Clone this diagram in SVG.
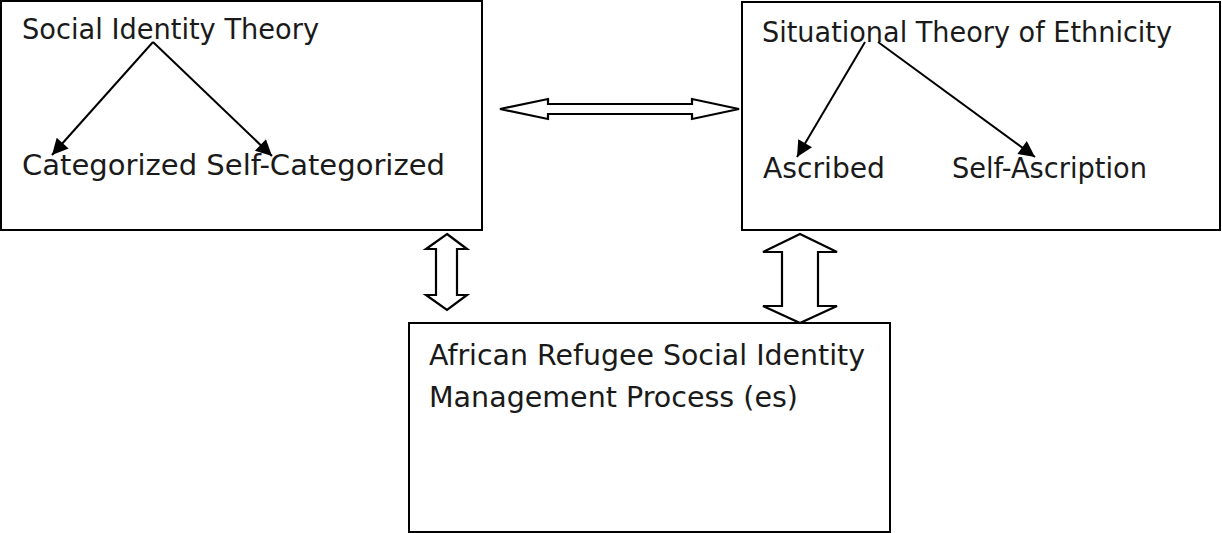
<svg xmlns="http://www.w3.org/2000/svg" width="1222" height="533" viewBox="0 0 1222 533">
<style>
.box{fill:#fff;stroke:#000;stroke-width:2}
.t{font-family:"DejaVu Sans","Liberation Sans",sans-serif;font-size:28px;fill:#1a1a1a}
.ln{stroke:#000;stroke-width:2;fill:none}
.blk{fill:#fff;stroke:#000;stroke-width:2.2;stroke-linejoin:miter}
</style>
<defs>
<marker id="ah" viewBox="0 0 10 10" refX="10" refY="5" markerWidth="20" markerHeight="16" markerUnits="userSpaceOnUse" orient="auto">
<path d="M0,0 L10,5 L0,10 z" fill="#000"/>
</marker>
</defs>
<rect width="1222" height="533" fill="#fff"/>
<g id="node-social">
<rect class="box" x="1" y="1" width="481" height="229"/>
<text class="t" x="22" y="39" textLength="297" lengthAdjust="spacingAndGlyphs">Social Identity Theory</text>
<text class="t" x="22" y="175" textLength="423" lengthAdjust="spacingAndGlyphs">Categorized Self-Categorized</text>
</g>
<g id="node-situational">
<rect class="box" x="742" y="2" width="478" height="228"/>
<text class="t" x="762" y="42" textLength="410" lengthAdjust="spacingAndGlyphs">Situational Theory of Ethnicity</text>
<text class="t" x="763" y="178" textLength="122" lengthAdjust="spacingAndGlyphs">Ascribed</text>
<text class="t" x="952" y="178" textLength="195" lengthAdjust="spacingAndGlyphs">Self-Ascription</text>
</g>
<g id="node-african">
<rect class="box" x="409" y="323" width="481" height="209"/>
<text class="t" x="429" y="365" textLength="436" lengthAdjust="spacingAndGlyphs">African Refugee Social Identity</text>
<text class="t" x="429" y="407" textLength="369" lengthAdjust="spacingAndGlyphs">Management Process (es)</text>
</g>
<g id="connectors">
<line class="ln" x1="153" y1="42" x2="52" y2="155" marker-end="url(#ah)"/>
<line class="ln" x1="153" y1="42" x2="272" y2="156" marker-end="url(#ah)"/>
<line class="ln" x1="865" y1="42" x2="797" y2="157" marker-end="url(#ah)"/>
<line class="ln" x1="878" y1="42" x2="1035" y2="157" marker-end="url(#ah)"/>
<path class="blk" d="M500,109 L548,99 L548,104 L692,104 L692,99 L739,109 L692,119 L692,114 L548,114 L548,119 Z"/>
<path class="blk" d="M447,234 L467,249 L457,249 L457,295 L467,295 L447,310 L426,295 L436,295 L436,249 L426,249 Z"/>
<path class="blk" d="M800,234 L837,252 L818,252 L818,306 L837,306 L800,323 L763,306 L782,306 L782,252 L763,252 Z"/>
</g>
</svg>
